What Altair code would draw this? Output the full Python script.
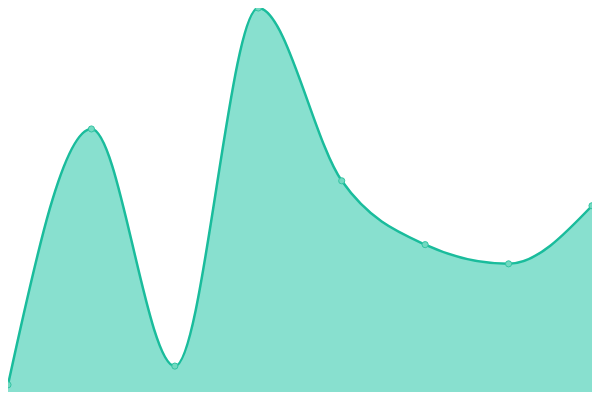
import altair as alt
import pandas as pd

xs = [0, 1, 2, 3, 4, 5, 6, 7]
values = [7.5, 274, 27, 400, 220, 153.5, 133.5, 194]

df = pd.DataFrame({"x": xs, "v": values})

x_enc = alt.X("x:Q", axis=None, scale=alt.Scale(domain=[0, 7], nice=False, zero=False))
y_enc = alt.Y("v:Q", axis=None, scale=alt.Scale(domain=[0, 400], nice=False))

base = alt.Chart(df).encode(x=x_enc, y=y_enc)

area = base.mark_area(interpolate="monotone", color="#88e0cf", opacity=1)
line = base.mark_line(interpolate="monotone", color="#1abc9c", strokeWidth=2.5)
pts = base.mark_point(filled=True, size=38, fill="#72d9c1", stroke="#33c4a3", strokeWidth=1, opacity=1)

chart = (area + line + pts).properties(
    width=584, height=384, padding=0,
    autosize=alt.AutoSizeParams(type="none"),
).configure_view(stroke=None)

chart.save("out.html", embed_options={"renderer": "svg", "actions": False})
